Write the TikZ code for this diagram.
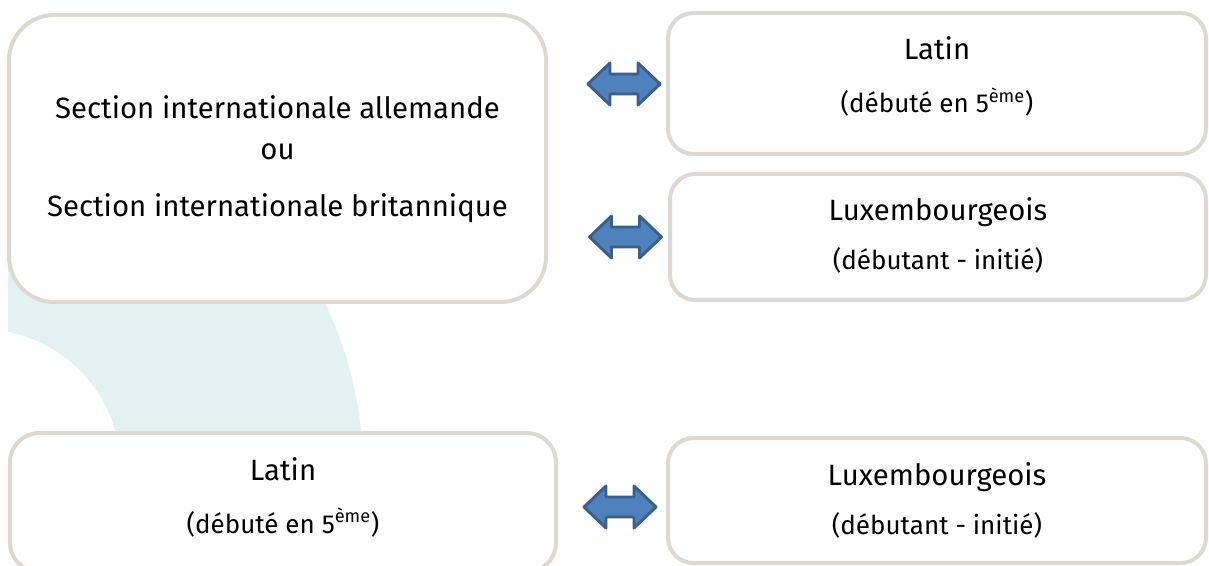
\documentclass[tikz,border=0pt]{standalone}
\usepackage{fontspec}
\setmainfont{Fira Sans}
\usetikzlibrary{fit}
\definecolor{boxline}{HTML}{DED8D3}
\definecolor{ringcol}{HTML}{E3F1F3}
\definecolor{arrfill}{HTML}{4F81BD}
\definecolor{arrline}{HTML}{3A5F8C}
\begin{document}
\begin{tikzpicture}[x=0.75pt,y=-0.75pt,
  box/.style={draw=boxline, line width=3pt, fill=white, rounded corners=#1, inner sep=0pt},
  box/.default=19pt,
  txt/.style={anchor=base, inner sep=0pt, font=\fontsize{22}{26}\selectfont},
  subtxt/.style={anchor=base, inner sep=0pt, font=\fontsize{19.5}{23}\selectfont},
  pics/dblarrow/.style={code={
    \draw[arrline, fill=arrfill, line width=2.2pt, line join=round]
      (-36,0) -- (-14,-21) -- (-14,-10) -- (14,-10) -- (14,-21) -- (36,0)
      -- (14,21) -- (14,10) -- (-14,10) -- (-14,21) -- cycle;}}]
\useasboundingbox (0,0) rectangle (1209,566);
% background ring
\begin{scope}
  \clip (8,0) rectangle (1209,566);
  \fill[ringcol, even odd rule] (-20,470) circle[radius=383] (-20,470) circle[radius=141];
\end{scope}
\begin{scope}
  \clip (0,0) rectangle (1209,566);
  \node[box=34pt, fit={(9,15) (546,302)}] (A) {};
  \node[box, fit={(668,13) (1206,154)}] (B) {};
  \node[box, fit={(670,174) (1206,300)}] (C) {};
  \node[box=22pt, fit={(10,433) (556,572)}] (D) {};
  \node[box, fit={(668,438) (1206,563)}] (E) {};
\end{scope}
% texts
\node[txt] (A1) at (277.5,119) {Section internationale allemande};
\node[txt] (A2) at (277.5,160) {ou};
\node[txt] (A3) at (277.5,217) {Section internationale britannique};
\node[txt] (B1) at (937,60) {Latin};
\node[subtxt] (B2) at (937,113) {(débuté en 5\textsuperscript{ème})};
\node[txt] (C1) at (938,221) {Luxembourgeois};
\node[subtxt] (C2) at (938,270) {(débutant - initié)};
\node[txt] (D1) at (283,480) {Latin};
\node[subtxt] (D2) at (283,533) {(débuté en 5\textsuperscript{ème})};
\node[txt] (E1) at (937,485) {Luxembourgeois};
\node[subtxt] (E2) at (937,534) {(débutant - initié)};
% double arrows
\pic (arrAB) at (624,84) {dblarrow};
\pic (arrAC) at (625.5,237) {dblarrow};
\pic (arrDE) at (620,507) {dblarrow};
\end{tikzpicture}
\end{document}
